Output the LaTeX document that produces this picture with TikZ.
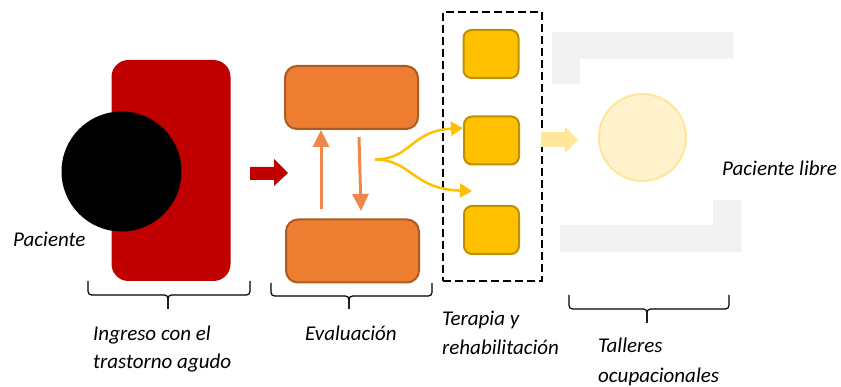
\documentclass[tikz,border=0pt]{standalone}
\usepackage{fontspec}
\setmainfont{Carlito}
\usetikzlibrary{arrows.meta}
\definecolor{redbox}{HTML}{C00000}
\definecolor{orfill}{HTML}{ED7D31}
\definecolor{ordraw}{HTML}{AE5A21}
\definecolor{orarrow}{HTML}{F0874A}
\definecolor{yefill}{HTML}{FFC000}
\definecolor{yedraw}{HTML}{BF9000}
\definecolor{lightye}{HTML}{FFE699}
\definecolor{paleye}{HTML}{FFF2CC}
\definecolor{grayblk}{HTML}{F2F2F2}
\tikzset{
  lbl/.style={font=\fontsize{21}{28}\selectfont\itshape, inner sep=0pt, anchor=base west},
  orbox/.style={draw=ordraw, fill=orfill, line width=2pt, rounded corners=12pt, minimum width=133pt, minimum height=63pt, inner sep=0pt},
  yebox/.style={draw=yedraw, fill=yefill, line width=2pt, rounded corners=8pt, minimum width=55pt, minimum height=48pt, inner sep=0pt},
  bracestyle/.style={draw=black, line width=1.2pt, rounded corners=3.5pt},
  orarr/.style={draw=orarrow, line width=3pt, -{Triangle[length=17pt,width=16pt]}},
  yearr/.style={draw=yefill, line width=2.5pt, -{Triangle[length=12pt,width=14pt]}},
}
\newcommand{\mybrace}[5]{% x1, x2, xm, ytop, yh (tip = 2*yh-ytop)
  \draw[bracestyle] (#1,#4) -- (#1,#5) -- (#3,#5) -- (#3,{2*#5-#4});
  \draw[bracestyle] (#2,#4) -- (#2,#5) -- (#3,#5) -- (#3,{2*#5-#4});
}
\begin{document}
\begin{tikzpicture}[x=1pt,y=-1pt]
\useasboundingbox (0,0) rectangle (841,387);
% Ingreso
\node[fill=redbox, rounded corners=17pt, minimum width=119pt, minimum height=221pt, inner sep=0pt] (ingreso) at (171,170.5) {};
\node[circle, fill=black, minimum size=120pt, inner sep=0pt] (paciente) at (121.5,171.5) {};
\node[lbl] (tpac) at (13,247) {Paciente};
% red arrow
\fill[redbox] (250,167) -- (274,167) -- (274,159) -- (288,173) -- (274,186) -- (274,180) -- (250,180) -- cycle;
% Evaluacion
\node[orbox] (evtop) at (351.5,97.5) {};
\node[orbox] (evbot) at (352.5,251) {};
\coordinate (upstart) at (321,209);
\coordinate (upend) at (321,130);
\coordinate (dnstart) at (359,137);
\coordinate (dnend) at (361,211);
\draw[orarr] (upstart) -- (upend);
\draw[orarr] (dnstart) -- (dnend);
% Terapia
\node[draw=black, dash pattern=on 8pt off 4pt, line width=1.5pt, minimum width=99pt, minimum height=269pt, inner sep=0pt] (terapia) at (492.5,146.5) {};
\node[yebox] (y1) at (491,54) {};
\node[yebox] (y2) at (491.5,140.5) {};
\node[yebox] (y3) at (491.5,230) {};
\coordinate (ystart) at (375,159.5);
\coordinate (yend1) at (463,128);
\coordinate (yend2) at (472,191);
\draw[yearr] (ystart) .. controls (412,159) and (410,131) .. (yend1);
\draw[yearr] (ystart) .. controls (412,160) and (412,189) .. (yend2);
% light arrow
\fill[lightye] (541,132) -- (565,132) -- (565,127) -- (578,140) -- (565,153) -- (565,147) -- (541,147) -- cycle;
% Talleres
\fill[grayblk] (552,32) -- (733,32) -- (733,59) -- (580,59) -- (580,84) -- (552,84) -- cycle;
\fill[grayblk] (560,225) -- (713,225) -- (713,200) -- (741,200) -- (741,252) -- (560,252) -- cycle;
\node[circle, draw=lightye, fill=paleye, line width=2pt, minimum size=87pt, inner sep=0pt] (libre) at (642.5,137.5) {};
\node[lbl] (tlibre) at (722,176) {Paciente libre};
% braces
\mybrace{88}{250}{168}{281}{295}
\mybrace{271}{432}{349}{283}{296}
\mybrace{569}{729}{647}{295}{309}
% labels
\node[lbl] (ting1) at (93,341) {Ingreso con el};
\node[lbl] (ting2) at (93,369) {trastorno agudo};
\node[lbl] (teval) at (305,341) {Evaluación};
\node[lbl] (tter1) at (442,326) {Terapia y};
\node[lbl] (tter2) at (442,355) {rehabilitación};
\node[lbl] (ttal1) at (598,353) {Talleres};
\node[lbl] (ttal2) at (598,382) {ocupacionales};
\end{tikzpicture}
\end{document}
